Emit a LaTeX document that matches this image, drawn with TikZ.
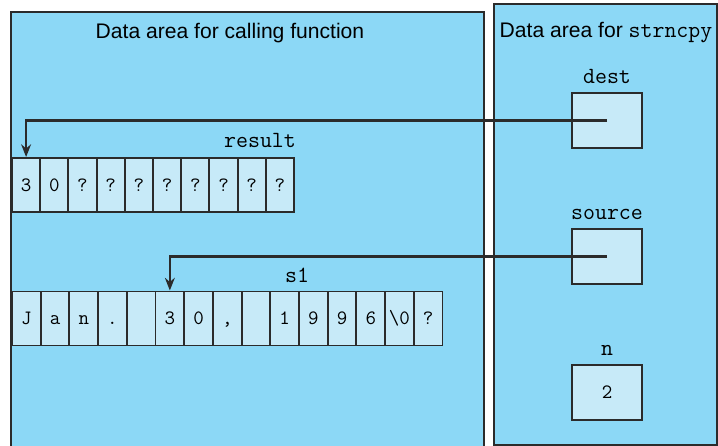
\documentclass[tikz,border=0pt]{standalone}
\usepackage{fontspec}
\setmainfont{Liberation Sans}
\usetikzlibrary{arrows.meta,positioning}
\definecolor{areablue}{HTML}{8CD8F6}
\definecolor{cellblue}{HTML}{C7EAF8}
\definecolor{edgegray}{HTML}{2B2B2B}

\begin{document}
\begin{tikzpicture}[x=0.025cm,y=-0.025cm,line width=1.4pt]
  \tikzstyle{area}=[draw=edgegray,fill=areablue]
  \tikzstyle{cell}=[draw=edgegray,fill=cellblue,minimum height=1.35cm,inner sep=0pt,
    text height=9pt,text depth=0pt,font=\fontsize{14.5}{15}\ttfamily]
  \tikzstyle{ptrbox}=[cell,minimum width=1.75cm,minimum height=1.375cm]
  \tikzstyle{lbl}=[inner sep=0pt,font=\fontsize{16.5}{18}\ttfamily]
  \tikzstyle{title}=[inner sep=0pt,font=\fontsize{15}{18}\selectfont]
  \tikzstyle{ptr}=[draw=edgegray,line width=1.5pt,-{Stealth[length=9pt,width=7pt]}]
  \useasboundingbox (0,0) rectangle (718,446);
  % the two data areas
  \begin{scope}
    \clip (0,0) rectangle (718,446);
    \draw[area] (11,12) rectangle (484,470);
    \draw[area] (494,4) rectangle (717,445);
  \end{scope}
  \node[title] (calltitle) at (230,33) {Data area for calling function};
  \node[title] (cpytitle) at (606,33) {Data area for {\fontsize{16.5}{18}\ttfamily strncpy}};
  % arrays of the caller
  \foreach \ch [count=\i] in {3,0,?,?,?,?,?,?,?,?}
    \node[cell,minimum width=0.705cm] (res\i) at ({12+28.2*(\i-0.5)},185) {\ch};
  \foreach \ch [count=\i] in {J,a,n,.,{},3,0,{,},{},1,9,9,6,\textbackslash0,?}
    \node[cell,minimum width=0.7175cm] (sone\i) at ({12+28.7*(\i-0.5)},318.5) {\ch};
  \node[lbl,anchor=south] (reslbl) at (260,149) {result};
  \node[lbl,anchor=south] (sonelbl) at (297,284) {s1};
  % parameters of strncpy
  \node[ptrbox] (dest) at (607,120.5) {};
  \node[ptrbox] (source) at (607,256.5) {};
  \node[ptrbox] (n) at (607,392.5) {2};
  \node[lbl,above=5pt of dest] (destlbl) {dest};
  \node[lbl,above=5pt of source] (sourcelbl) {source};
  \node[lbl,above=5pt of n] (nlbl) {n};
  \draw[ptr] (dest.center) -| (res1.north);
  \draw[ptr] (source.center) -| (sone6.north);
\end{tikzpicture}
\end{document}
